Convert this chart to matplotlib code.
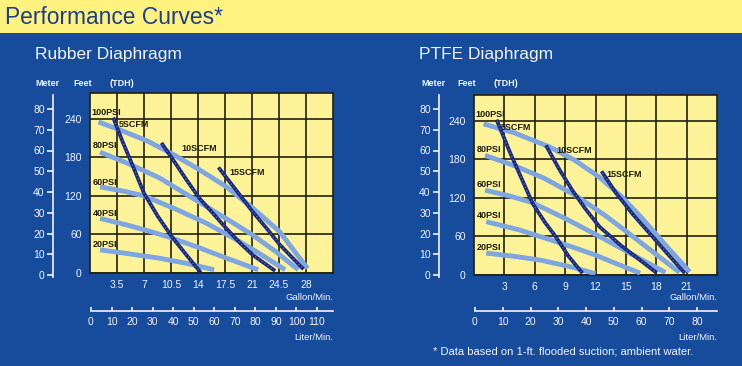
import matplotlib
matplotlib.use("Agg")
import matplotlib.pyplot as plt

# rozmery obrazku v pixelech
W, H = 742, 366
BLUE = "#174C9C"
BANNER = "#FFF27F"
FACE = "#FFF39A"
LIGHT = "#7EA6E0"
NAVY = "#18287A"
TXT = "#F2F4F8"

plt.rcParams["font.family"] = ["Liberation Sans", "DejaVu Sans"]

# --- data: Rubber Diaphragm (gpm, feet) ---
rub_gpm_ticks = [3.5, 7, 10.5, 14, 17.5, 21, 24.5, 28]
rub_lpm_ticks = [0, 10, 20, 30, 40, 50, 60, 70, 80, 90, 100, 110]
rub_psi = {
    "100PSI": ([1.1, 4, 7.5, 10.7, 14, 17.7, 21, 24.6, 28.2],
               [235, 222, 205, 185, 162, 134, 102, 64, 7]),
    "80PSI": ([1.3, 5, 9, 14.2, 18, 21.1, 24, 27.0],
              [188, 170, 148, 110, 82, 59, 34, 5]),
    "60PSI": ([1.3, 4.5, 7, 11, 15, 18.5, 21.2, 25.3],
              [134, 127, 120, 100, 78, 55, 36, 5]),
    "40PSI": ([1.3, 5, 8, 10.7, 14, 17.5, 21.8],
              [85, 74, 64, 54, 40, 24, 5]),
    "20PSI": ([1.3, 5, 9, 12.5, 16.1], [36, 30, 23, 15, 5]),
}
rub_scfm = {
    "5SCFM": ([3.1, 4.2, 5.5, 7, 8.8, 10.7, 12.5, 14.2],
              [239, 205, 168, 124, 88, 55, 28, 3]),
    "10SCFM": ([9.4, 11, 12.5, 14.2, 16, 17.7, 19.5, 21.1, 23.8],
               [200, 172, 145, 116, 92, 69, 46, 28, 5]),
    "15SCFM": ([16.8, 19, 21.1, 23, 24.6, 27.5],
               [162, 128, 95, 68, 44, 8]),
}
rub_labels = {
    "100PSI": (0.24, 249), "5SCFM": (3.7, 231), "80PSI": (0.33, 199),
    "10SCFM": (11.8, 194), "60PSI": (0.33, 141), "15SCFM": (18.1, 156),
    "40PSI": (0.33, 92), "20PSI": (0.33, 45),
}

# --- data: PTFE Diaphragm ---
ptfe_gpm_ticks = [3, 6, 9, 12, 15, 18, 21]
ptfe_lpm_ticks = [0, 10, 20, 30, 40, 50, 60, 70, 80]
ptfe_psi = {
    "100PSI": ([0.95, 4, 7.5, 10, 12.4, 14.5, 16.5, 19, 21.3],
               [235, 221, 199, 178, 152, 123, 90, 45, 5]),
    "80PSI": ([1.1, 4, 7, 10, 13, 15.6, 18, 20.3],
              [186, 170, 150, 124, 92, 61, 32, 4]),
    "60PSI": ([1.1, 3.5, 5.7, 9, 12.4, 15.5, 18.9],
              [132, 123, 113, 88, 60, 33, 4]),
    "40PSI": ([1.2, 4.5, 7.5, 10, 12, 14, 16.4],
              [83, 70, 55, 42, 31, 18, 3]),
    "20PSI": ([1.2, 4, 6.6, 9.5, 12.0], [34, 29, 23, 13, 2]),
}
ptfe_scfm = {
    "5SCFM": ([2.3, 3, 3.6, 4.7, 5.8, 7, 8.1, 9.3, 10.6],
              [239, 212, 189, 150, 111, 82, 59, 30, 5]),
    "10SCFM": ([7.2, 8.4, 9.7, 11, 12.4, 14.5, 16.5, 17.9],
               [199, 165, 132, 103, 75, 46, 22, 5]),
    "15SCFM": ([12.7, 14, 15.6, 17.5, 19, 20.7],
               [159, 128, 96, 62, 35, 5]),
}
ptfe_labels = {
    "100PSI": (0.13, 249), "5SCFM": (2.6, 230), "80PSI": (0.23, 195),
    "10SCFM": (8.1, 194), "60PSI": (0.23, 141), "15SCFM": (13.1, 156),
    "40PSI": (0.3, 92), "20PSI": (0.3, 42),
}

feet_ticks = [0, 60, 120, 180, 240]
meter_ticks = [0, 10, 20, 30, 40, 50, 60, 70, 80]


def box(x0, y0, x1, y1):
    # pixely (shora) -> souradnice figury
    return [x0 / W, 1 - y1 / H, (x1 - x0) / W, (y1 - y0) / H]


def ftext(x, y, s, **kw):
    fig.text(x / W, 1 - y / H, s, **kw)


fig = plt.figure(figsize=(W / 100, H / 100), dpi=100)
fig.patch.set_facecolor(BLUE)

# zluty pruh nahore
band = fig.add_axes(box(0, 0, W, 33))
band.set_facecolor(BANNER)
band.set_xticks([])
band.set_yticks([])
for s in band.spines.values():
    s.set_visible(False)
ftext(5, 17, "Performance Curves*", fontsize=16.4, color="#1D3F8A",
      va="center", ha="left")


def chart(px0, py0, title, gpm_max, gpm_ticks, lpm_ticks, lpm_max, lpm_x0,
          meter_x, psi, scfm, labels):
    px1, py1 = px0 + 243, py0 + 180
    ftext(px0 - 55, 54, title, fontsize=12.5, color=TXT, va="center")
    ftext(meter_x - 18, 84, "Meter", fontsize=6.5, color=TXT, va="center",
          weight="bold")
    ftext(px0 - 17, 84, "Feet", fontsize=6.5, color=TXT, va="center",
          weight="bold")
    ftext(px0 + 20, 84, "(TDH)", fontsize=6.5, color=TXT, va="center",
          weight="bold")

    ax = fig.add_axes(box(px0, py0, px1, py1))
    ax.set_facecolor(FACE)
    ax.set_xlim(0, gpm_max)
    ax.set_ylim(0, 280)
    ax.set_xticks(gpm_ticks)
    ax.set_yticks(feet_ticks)
    ax.grid(True, color="#20200f", lw=1.2)
    ax.set_axisbelow(True)
    ax.tick_params(length=0, colors=TXT, labelsize=7.5)
    ax.tick_params(axis="x", pad=5)
    ax.tick_params(axis="y", pad=6)
    ax.set_xticklabels([("%g" % t) for t in gpm_ticks])
    for s in ax.spines.values():
        s.set_color("#20200f")
        s.set_linewidth(1.2)

    for name, (x, y) in psi.items():
        ax.plot(x, y, color=LIGHT, lw=3.5, solid_capstyle="butt",
                solid_joinstyle="round", zorder=3)
    for name, (x, y) in scfm.items():
        ax.plot(x, y, color=NAVY, lw=2.7, solid_joinstyle="round", zorder=4)
        ax.plot(x, y, color="#5B70C2", lw=0.9, ls=(0, (1, 2)), zorder=5)
    for name, (x, y) in labels.items():
        ax.text(x, y, name, fontsize=6.5, weight="bold", color="#1c1c10",
                va="center", ha="left", zorder=6)

    ftext(px1, 297, "Gallon/Min.", fontsize=6.8, color=TXT, ha="right",
          va="center")

    # osa litru
    la = fig.add_axes(box(lpm_x0, 300, px1, 311))
    la.patch.set_visible(False)
    la.set_xlim(0, lpm_max)
    la.set_yticks([])
    la.set_xticks(lpm_ticks)
    for k in ["top", "left", "right"]:
        la.spines[k].set_visible(False)
    la.spines["bottom"].set_color(TXT)
    la.spines["bottom"].set_linewidth(1.2)
    la.tick_params(axis="x", direction="in", length=3, width=1.2,
                   colors=TXT, labelsize=7.5, pad=4)
    ftext(px1, 337, "Liter/Min.", fontsize=6.8, color=TXT, ha="right",
          va="center")

    # osa metru
    ma = fig.add_axes(box(meter_x, 95, meter_x + 1, 277))
    ma.patch.set_visible(False)
    ma.set_ylim(-(277 - 275) / 2.075, (275 - 95) / 2.075)
    ma.set_xticks([])
    ma.set_yticks(meter_ticks)
    for k in ["top", "bottom", "right"]:
        ma.spines[k].set_visible(False)
    ma.spines["left"].set_color(TXT)
    ma.spines["left"].set_linewidth(1.2)
    ma.tick_params(axis="y", direction="out", length=4, width=1.2,
                   colors=TXT, labelsize=7.5, pad=2)
    return ax


chart(90, 93, "Rubber Diaphragm", 31.5, rub_gpm_ticks, rub_lpm_ticks,
      117.8, 91, 53, rub_psi, rub_scfm, rub_labels)
chart(474, 95, "PTFE Diaphragm", 24, ptfe_gpm_ticks, ptfe_lpm_ticks,
      87.2, 475, 439, ptfe_psi, ptfe_scfm, ptfe_labels)

ftext(433, 352, "* Data based on 1-ft. flooded suction; ambient water.",
      fontsize=8, color=TXT, va="center")

fig.savefig("out.png", dpi=100, facecolor=fig.get_facecolor())
